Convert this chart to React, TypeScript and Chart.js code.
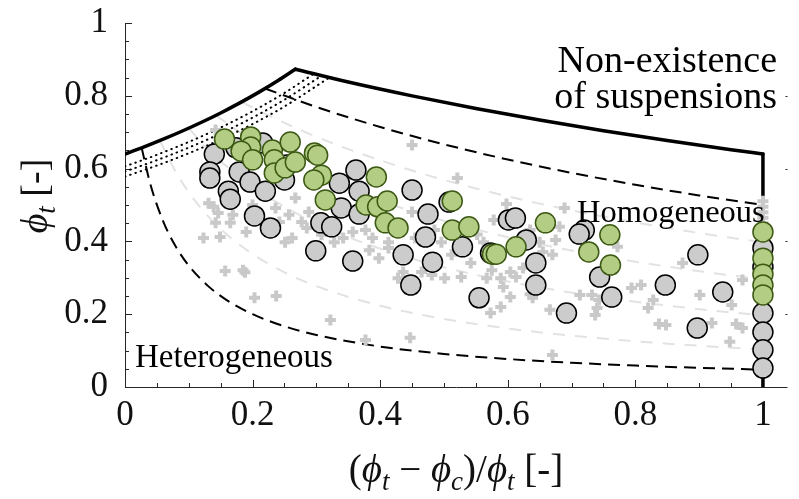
import React, { useEffect, useRef } from "react";
import { Chart, registerables } from "chart.js";

Chart.register(...registerables);

const SERIF = '"Liberation Serif", "DejaVu Serif", serif';

// Axis extents and tick labels
const X_MAX = 1.0385;
const xTickValues = [0, 0.2, 0.4, 0.6, 0.8, 1];
const xTickLabels = ["0", "0.2", "0.4", "0.6", "0.8", "1"];
const yTickValues = [0, 0.2, 0.4, 0.6, 0.8, 1];
const yTickLabels = ["0", "0.2", "0.4", "0.6", "0.8", "1"];

// Upper limit of existence (random close packing branch, then jamming branch, then X = 1)
const packingLeftX = [0, 0.03, 0.06, 0.09, 0.12, 0.15, 0.18, 0.21, 0.24, 0.267];
const packingLeftY = [0.64, 0.6598, 0.6809, 0.7033, 0.7273, 0.7529, 0.7805, 0.8101, 0.8421, 0.8731];
const packingRightX = [0.267, 0.35, 0.45, 0.55, 0.65, 0.75, 0.85, 0.95, 1];
const packingRightY = [0.8731, 0.8377, 0.7997, 0.765, 0.7333, 0.704, 0.677, 0.652, 0.64];
const packingEdgeX = [1, 1];
const packingEdgeY = [0.64, 0];

// Homogeneous / heterogeneous transition bounds
const upperBoundX = [0.2195, 0.3, 0.4, 0.5, 0.6, 0.7, 0.8, 0.9, 1];
const upperBoundY = [0.8201, 0.7692, 0.7143, 0.6667, 0.625, 0.5882, 0.5556, 0.5263, 0.5];
const lowerBoundX = [0.026, 0.04, 0.06, 0.08, 0.1, 0.13, 0.16, 0.2, 0.25, 0.3, 0.4, 0.5, 0.6, 0.7, 0.8, 0.9, 1];
const lowerBoundY = [0.6579, 0.5556, 0.4545, 0.3846, 0.3333, 0.2778, 0.2381, 0.2, 0.1667, 0.1429, 0.1111, 0.0909, 0.0769, 0.0667, 0.0588, 0.0526, 0.0476];

// Intermediate iso-lines (light grey)
const isoAX = [0.0548, 0.08, 0.11, 0.15, 0.2, 0.25, 0.3, 0.4, 0.5, 0.6, 0.7, 0.8, 0.9, 1];
const isoAY = [0.6766, 0.5897, 0.5111, 0.434, 0.3651, 0.3151, 0.2771, 0.2233, 0.187, 0.1608, 0.1411, 0.1257, 0.1133, 0.1031];
const isoBX = [0.0997, 0.13, 0.17, 0.22, 0.28, 0.35, 0.45, 0.55, 0.65, 0.75, 0.85, 0.95, 1];
const isoBY = [0.7108, 0.6533, 0.5904, 0.5269, 0.4667, 0.4118, 0.3525, 0.3082, 0.2737, 0.2462, 0.2237, 0.205, 0.1968];
const isoCX = [0.1426, 0.18, 0.23, 0.3, 0.4, 0.5, 0.6, 0.7, 0.8, 0.9, 1];
const isoCY = [0.7465, 0.7, 0.6462, 0.5833, 0.5122, 0.4565, 0.4118, 0.375, 0.3443, 0.3182, 0.2958];
const isoDX = [0.1828, 0.22, 0.28, 0.35, 0.45, 0.55, 0.65, 0.75, 0.85, 0.95, 1];
const isoDY = [0.7831, 0.75, 0.7021, 0.6535, 0.5946, 0.5455, 0.5038, 0.4681, 0.4371, 0.4099, 0.3976];

// Dotted packing curves
const dotAX = [0, 0.05, 0.1, 0.15, 0.2, 0.25, 0.2955];
const dotAY = [0.606, 0.6379, 0.6733, 0.7129, 0.7575, 0.808, 0.8601];
const dotBX = [0, 0.05, 0.1, 0.15, 0.2, 0.25, 0.3073];
const dotBY = [0.592, 0.6232, 0.6578, 0.6965, 0.74, 0.7893, 0.8544];
const dotCX = [0, 0.05, 0.1, 0.15, 0.2, 0.25, 0.3192];
const dotCY = [0.578, 0.6084, 0.6422, 0.68, 0.7225, 0.7707, 0.849];

// Simulations (grey crosses)
const simulations: [number, number][] = [
  [0.142, 0.706], [0.131, 0.505], [0.139, 0.495], [0.146, 0.478], [0.123, 0.409], [0.149, 0.412],
  [0.142, 0.451], [0.165, 0.451], [0.169, 0.473], [0.19, 0.426], [0.2, 0.5], [0.236, 0.492],
  [0.242, 0.453], [0.257, 0.473], [0.262, 0.409], [0.267, 0.519], [0.277, 0.453], [0.288, 0.481],
  [0.285, 0.437], [0.308, 0.418], [0.328, 0.398], [0.342, 0.409], [0.251, 0.398], [0.157, 0.319],
  [0.185, 0.321], [0.188, 0.315], [0.203, 0.245], [0.237, 0.25], [0.322, 0.184],
  [0.45, 0.665], [0.521, 0.574], [0.598, 0.503], [0.689, 0.492], [0.681, 0.44],
  [0.383, 0.376], [0.398, 0.354], [0.413, 0.382], [0.428, 0.299], [0.436, 0.316], [0.465, 0.316],
  [0.481, 0.308], [0.501, 0.299], [0.512, 0.363], [0.527, 0.302], [0.542, 0.341], [0.567, 0.299],
  [0.575, 0.321], [0.589, 0.299], [0.593, 0.275], [0.604, 0.316], [0.613, 0.302], [0.624, 0.327],
  [0.635, 0.255], [0.655, 0.371], [0.67, 0.363], [0.589, 0.22], [0.573, 0.203], [0.604, 0.247],
  [0.666, 0.212], [0.67, 0.088], [0.377, 0.129], [0.447, 0.135], [0.639, 0.245],
  [0.357, 0.426], [0.377, 0.431], [0.388, 0.409], [0.413, 0.398], [0.45, 0.481], [0.455, 0.409],
  [0.485, 0.431], [0.496, 0.398], [0.552, 0.419], [0.562, 0.398], [0.578, 0.459], [0.635, 0.431],
  [0.65, 0.398], [0.675, 0.404],
  [0.713, 0.253], [0.732, 0.253], [0.74, 0.217], [0.737, 0.198], [0.743, 0.239], [0.794, 0.272],
  [0.809, 0.28], [0.828, 0.239], [0.82, 0.217], [0.837, 0.173], [0.848, 0.17], [0.874, 0.341],
  [0.901, 0.253], [0.92, 0.176], [0.951, 0.225], [0.958, 0.173], [0.968, 0.162], [0.948, 0.124],
  [0.968, 0.294], [0.772, 0.385],
  [1, 0.51], [1, 0.495], [1, 0.48], [1, 0.465], [1, 0.45], [1, 0.435], [1, 0.4], [1, 0.3], [1, 0.2], [1, 0.1],
];

// Experiments without clustering (grey circles)
const experimentsPlain: [number, number][] = [
  [0.14, 0.64], [0.133, 0.591], [0.133, 0.574], [0.162, 0.538], [0.165, 0.516], [0.179, 0.591],
  [0.196, 0.563], [0.22, 0.538], [0.203, 0.47], [0.228, 0.437], [0.216, 0.67], [0.174, 0.657],
  [0.25, 0.569], [0.254, 0.61], [0.336, 0.56], [0.339, 0.492], [0.307, 0.451], [0.324, 0.44],
  [0.299, 0.374], [0.357, 0.346], [0.362, 0.596], [0.367, 0.538], [0.367, 0.475], [0.45, 0.541],
  [0.475, 0.475], [0.471, 0.412], [0.508, 0.508], [0.601, 0.459], [0.612, 0.464], [0.629, 0.404],
  [0.436, 0.363], [0.482, 0.343], [0.448, 0.28], [0.529, 0.385], [0.555, 0.245], [0.573, 0.368],
  [0.644, 0.341], [0.644, 0.28], [0.692, 0.203], [0.72, 0.431], [0.712, 0.42], [0.744, 0.302],
  [0.763, 0.247], [0.847, 0.28], [0.898, 0.363], [0.937, 0.261], [0.897, 0.162],
  [1, 0.382], [1, 0.33], [1, 0.203], [1, 0.151], [1, 0.102], [1, 0.052],
];

// Experiments with clustering (green circles)
const experimentsClustered: [number, number][] = [
  [0.156, 0.681], [0.197, 0.687], [0.197, 0.659], [0.182, 0.648], [0.2, 0.624], [0.231, 0.651],
  [0.234, 0.624], [0.234, 0.588], [0.251, 0.602], [0.259, 0.673], [0.267, 0.618], [0.297, 0.643],
  [0.302, 0.637], [0.308, 0.582], [0.296, 0.569], [0.314, 0.514], [0.394, 0.577], [0.378, 0.5],
  [0.396, 0.495], [0.411, 0.511], [0.408, 0.451], [0.428, 0.437], [0.513, 0.511], [0.513, 0.431],
  [0.539, 0.44], [0.659, 0.451], [0.576, 0.365], [0.582, 0.365], [0.613, 0.385], [0.727, 0.371],
  [0.76, 0.418], [0.761, 0.335],
  [1, 0.426], [1, 0.354], [1, 0.31], [1, 0.28], [1, 0.253],
];

const zip = (xs: number[], ys: number[]) => xs.map((x, i) => ({ x, y: ys[i] }));
const toPts = (arr: [number, number][]) => arr.map(([x, y]) => ({ x, y }));

const curve = (xs: number[], ys: number[], color: string, width: number, dash: number[], order: number, extra: any = {}) => ({
  data: zip(xs, ys),
  showLine: true,
  borderColor: color,
  borderWidth: width,
  borderDash: dash,
  pointRadius: 0,
  pointHoverRadius: 0,
  fill: false,
  cubicInterpolationMode: "monotone",
  order,
  ...extra,
});

type Run = { t: string; it?: boolean; sub?: boolean };

function runFont(r: Run, size: number) {
  const s = r.sub ? Math.round(size * 0.7) : size;
  return `${r.it ? "italic " : ""}${s}px ${SERIF}`;
}
function runsWidth(ctx: CanvasRenderingContext2D, runs: Run[], size: number) {
  let w = 0;
  for (const r of runs) {
    ctx.font = runFont(r, size);
    w += ctx.measureText(r.t).width;
  }
  return w;
}
function drawRuns(ctx: CanvasRenderingContext2D, runs: Run[], cx: number, baseline: number, size: number) {
  const w = runsWidth(ctx, runs, size);
  let x = cx - w / 2;
  ctx.textAlign = "left";
  ctx.textBaseline = "alphabetic";
  for (const r of runs) {
    ctx.font = runFont(r, size);
    ctx.fillText(r.t, x, baseline + (r.sub ? size * 0.2 : 0));
    x += ctx.measureText(r.t).width;
  }
}

const xTitle: Run[] = [
  { t: "(" }, { t: "ϕ", it: true }, { t: "t", it: true, sub: true }, { t: " − " },
  { t: "ϕ", it: true }, { t: "c", it: true, sub: true }, { t: ")/" },
  { t: "ϕ", it: true }, { t: "t", it: true, sub: true }, { t: " [-]" },
];
const yTitle: Run[] = [{ t: "ϕ", it: true }, { t: "t", it: true, sub: true }, { t: " [-]" }];

const framePlugin = {
  id: "frame",
  beforeDatasetsDraw(chart: any) {
    const { ctx, chartArea: a, scales } = chart;
    const xs = scales.x, ys = scales.y;
    ctx.save();
    ctx.strokeStyle = "#262626";
    ctx.lineWidth = 1;
    ctx.beginPath();
    ctx.moveTo(a.left + 0.5, a.top);
    ctx.lineTo(a.left + 0.5, a.bottom + 0.5);
    ctx.lineTo(a.right, a.bottom + 0.5);
    // ticks every 0.05, longer at labelled values
    for (let i = 0; i <= 20; i++) {
      const v = i * 0.05;
      const major = i % 4 === 0;
      const len = major ? 7 : 4;
      const px = Math.round(xs.getPixelForValue(v)) + 0.5;
      ctx.moveTo(px, a.bottom);
      ctx.lineTo(px, a.bottom - len);
      const py = Math.round(ys.getPixelForValue(v)) + 0.5;
      ctx.moveTo(a.left, py);
      ctx.lineTo(a.left + len, py);
      if (major && i > 0 && i < 20) {
        ctx.moveTo(a.right, py);
        ctx.lineTo(a.right - 2, py);
      }
    }
    ctx.stroke();
    ctx.restore();
  },
  afterDatasetsDraw(chart: any) {
    const { ctx, chartArea: a, scales } = chart;
    const xs = scales.x, ys = scales.y;
    ctx.save();
    ctx.fillStyle = "#111";
    ctx.font = `35px ${SERIF}`;
    ctx.textAlign = "center";
    ctx.textBaseline = "middle";
    xTickValues.forEach((v, i) => ctx.fillText(xTickLabels[i], xs.getPixelForValue(v), a.bottom + 29));
    ctx.textAlign = "right";
    yTickValues.forEach((v, i) => ctx.fillText(yTickLabels[i], a.left - 17, ys.getPixelForValue(v)));

    drawRuns(ctx, xTitle, 456, 482, 39);
    ctx.save();
    ctx.translate(47, 196);
    ctx.rotate(-Math.PI / 2);
    drawRuns(ctx, yTitle, 0, 0, 38);
    ctx.restore();

    ctx.fillStyle = "#000";
    ctx.textBaseline = "alphabetic";
    ctx.textAlign = "right";
    ctx.font = `38px ${SERIF}`;
    ctx.fillText("Non-existence", 777, 72);
    ctx.fillText("of suspensions", 777, 108);
    ctx.textAlign = "left";
    ctx.font = `32.5px ${SERIF}`;
    ctx.fillText("Homogeneous", 577, 222);
    ctx.font = `33px ${SERIF}`;
    ctx.fillText("Heterogeneous", 135, 367);
    ctx.restore();
  },
};

export default function App() {
  const canvasRef = useRef<HTMLCanvasElement | null>(null);

  useEffect(() => {
    const canvas = canvasRef.current;
    if (!canvas) return;
    const grey = "#e2e2e2";
    const chart = new Chart(canvas, {
      type: "scatter",
      data: {
        datasets: [
          {
            label: "clustered",
            data: toPts(experimentsClustered),
            pointStyle: "circle",
            pointRadius: 10,
            pointHoverRadius: 10,
            pointBackgroundColor: "#b3cd84",
            pointBorderColor: "#3d5a14",
            pointBorderWidth: 1.5,
            showLine: false,
            order: 0,
          },
          {
            label: "plain",
            data: toPts(experimentsPlain),
            pointStyle: "circle",
            pointRadius: 10,
            pointHoverRadius: 10,
            pointBackgroundColor: "#cccccc",
            pointBorderColor: "#000000",
            pointBorderWidth: 1.5,
            showLine: false,
            order: 1,
          },
          {
            label: "simulations",
            data: toPts(simulations),
            pointStyle: "cross",
            pointRadius: 5.5,
            pointHoverRadius: 5.5,
            pointBorderColor: "#c9c9c9",
            pointBorderWidth: 4,
            showLine: false,
            order: 2,
          },
          curve(packingLeftX, packingLeftY, "#000", 3.5, [], 3, { borderCapStyle: "round" }),
          curve(packingRightX, packingRightY, "#000", 3.5, [], 3, { borderCapStyle: "round" }),
          curve(packingEdgeX, packingEdgeY, "#000", 3.5, [], 3, { borderCapStyle: "round", cubicInterpolationMode: "default", tension: 0 }),
          curve(upperBoundX, upperBoundY, "#000", 2, [12, 7], 4),
          curve(lowerBoundX, lowerBoundY, "#000", 2, [12, 7], 4),
          curve(dotAX, dotAY, "#000", 2, [0.5, 5], 5, { borderCapStyle: "round" }),
          curve(dotBX, dotBY, "#000", 2, [0.5, 5], 5, { borderCapStyle: "round" }),
          curve(dotCX, dotCY, "#000", 2, [0.5, 5], 5, { borderCapStyle: "round" }),
          curve(isoAX, isoAY, grey, 2, [12, 10], 6),
          curve(isoBX, isoBY, grey, 2, [12, 10], 6),
          curve(isoCX, isoCY, grey, 2, [12, 10], 6),
          curve(isoDX, isoDY, grey, 2, [12, 10], 6),
        ] as any,
      },
      options: {
        animation: false,
        responsive: false,
        devicePixelRatio: 1,
        layout: { padding: { left: 125, right: 0, top: 23, bottom: 112 } },
        scales: {
          x: { type: "linear", min: 0, max: X_MAX, display: false },
          y: { type: "linear", min: 0, max: 1, display: false },
        },
        plugins: { legend: { display: false }, tooltip: { enabled: false } },
        events: [],
      } as any,
      plugins: [framePlugin],
    });
    return () => chart.destroy();
  }, []);

  return (
    <div style={{ position: "fixed", left: 0, top: 0, width: 799, height: 499, background: "#fff" }}>
      <canvas ref={canvasRef} width={799} height={499} style={{ display: "block" }} />
    </div>
  );
}
